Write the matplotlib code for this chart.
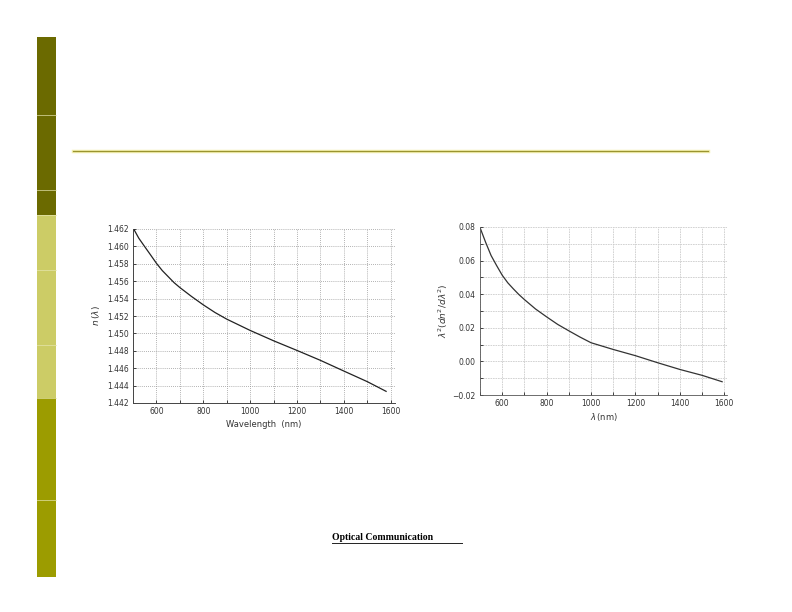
import matplotlib
matplotlib.use("Agg")
import matplotlib.pyplot as plt
from matplotlib.patches import Rectangle
from matplotlib.lines import Line2D

# refractive index of silica vs wavelength
wl_n = [505, 525, 550, 575, 600, 625, 650, 675, 700, 750, 800, 850, 900, 1000,
        1100, 1200, 1300, 1400, 1500, 1580]
n_vals = [1.4619, 1.46093, 1.45997, 1.45902, 1.45806, 1.45722, 1.45653, 1.45584,
          1.45527, 1.45424, 1.45328, 1.45240, 1.45164, 1.45034, 1.44915, 1.44804,
          1.4469, 1.44567, 1.44445, 1.44334]

# material dispersion term lambda^2 d2n/dlambda2
wl_d = [502, 525, 550, 575, 600, 625, 650, 675, 700, 750, 800, 850, 900, 950, 1000,
        1100, 1200, 1300, 1400, 1500, 1590]
d_vals = [0.079, 0.071, 0.063, 0.057, 0.0513, 0.0468, 0.0432, 0.0398, 0.0368, 0.0312,
          0.0265, 0.0220, 0.0182, 0.0145, 0.0111, 0.0071, 0.0034, -0.0008, -0.0048,
          -0.0083, -0.0121]

left_yticks = [1.442, 1.444, 1.446, 1.448, 1.450, 1.452, 1.454, 1.456, 1.458, 1.460, 1.462]
left_yticklabels = ['1.442', '1.444', '1.446', '1.448', '1.450', '1.452', '1.454',
                    '1.456', '1.458', '1.460', '1.462']
right_yticks = [-0.02, 0.00, 0.02, 0.04, 0.06, 0.08]
right_yticklabels = ['\u22120.02', '0.00', '0.02', '0.04', '0.06', '0.08']
xticks = [600, 800, 1000, 1200, 1400, 1600]

W, H = 792, 612
fig = plt.figure(figsize=(7.92, 6.12), dpi=100)
fig.patch.set_facecolor('white')


def px_rect(x0, y0, x1, y1):
    # image pixel box -> figure fraction [left, bottom, width, height]
    return [x0 / W, 1 - y1 / H, (x1 - x0) / W, (y1 - y0) / H]


# side bar of the slide
bar_segments = [(37, 115, '#6b6a00'), (115, 190, '#6b6a00'), (190, 215, '#6b6a00'),
                (215, 270, '#cccc66'), (270, 345, '#cccc66'), (345, 398, '#cccc66'),
                (398, 500, '#9c9c00'), (500, 577, '#9c9c00')]
for y0, y1, c in bar_segments:
    r = px_rect(37, y0, 56, y1)
    fig.patches.append(Rectangle((r[0], r[1]), r[2], r[3], transform=fig.transFigure,
                                 facecolor=c, edgecolor='none'))
for y in [115, 190, 215, 270, 345, 398, 500]:
    fig.lines.append(Line2D([37 / W, 56 / W], [1 - y / H] * 2, transform=fig.transFigure,
                            color='#e6e6b0', lw=0.6, alpha=0.8))

# title rule
fig.lines.append(Line2D([73 / W, 708 / W], [1 - 151 / H] * 2, transform=fig.transFigure,
                        color='#f4f0b0', lw=2.5))
fig.lines.append(Line2D([73 / W, 708 / W], [1 - 151 / H] * 2, transform=fig.transFigure,
                        color='#9a9430', lw=0.9))

# left chart
ax1 = fig.add_axes(px_rect(133, 229, 395, 403))
ax1.plot(wl_n, n_vals, color='#222222', lw=0.9)
ax1.set_xlim(500, 1618)
ax1.set_ylim(1.442, 1.462)
ax1.set_xticks(xticks)
ax1.set_xticks(range(500, 1700, 100), minor=True)
ax1.set_yticks(left_yticks)
ax1.set_yticklabels(left_yticklabels)
ax1.grid(True, which='both', color='#999999', lw=0.6, ls=(0, (1, 1.5)))
ax1.tick_params(which='both', direction='in', length=2, width=0.5, labelsize=5.5,
                labelcolor='#333333', pad=3)
for s in ax1.spines.values():
    s.set_linewidth(0.7)
    s.set_color('#444444')
ax1.spines['right'].set_visible(False)
ax1.spines['top'].set_visible(False)
ax1.set_xlabel('Wavelength  (nm)', fontsize=6, color='#333333', labelpad=3)
ax1.set_ylabel(r'$n\,(\lambda)$', fontsize=6.5, color='#333333', labelpad=4)

# right chart
ax2 = fig.add_axes(px_rect(480, 227, 727, 395))
ax2.plot(wl_d, d_vals, color='#333333', lw=0.9)
ax2.set_xlim(500, 1612)
ax2.set_ylim(-0.02, 0.08)
ax2.set_xticks(xticks)
ax2.set_xticks(range(500, 1700, 100), minor=True)
ax2.set_yticks(right_yticks)
ax2.set_yticklabels(right_yticklabels)
ax2.set_yticks([-0.01, 0.01, 0.03, 0.05, 0.07], minor=True)
ax2.grid(True, which='both', color='#cccccc', lw=0.6, ls=(0, (2, 1)))
ax2.tick_params(which='both', direction='in', length=2, width=0.5, labelsize=5.5,
                labelcolor='#333333', pad=3)
for s in ax2.spines.values():
    s.set_linewidth(0.6)
    s.set_color('#555555')
ax2.spines['right'].set_visible(False)
ax2.spines['top'].set_visible(False)
ax2.set_xlabel(r'$\lambda\,$(nm)', fontsize=6, color='#333333', labelpad=2)
ax2.set_ylabel(r'$\lambda^2(dn^2/d\lambda^2)$', fontsize=6.5, color='#333333', labelpad=2)

# footer
fig.text(332 / W, 1 - 540 / H, 'Optical Communication', fontsize=7, family='Liberation Serif',
         fontweight='bold', va='baseline', ha='left')
fig.lines.append(Line2D([332 / W, 462 / W], [1 - 543 / H] * 2, transform=fig.transFigure,
                        color='#222222', lw=0.7))

fig.savefig('out.png', dpi=100)
